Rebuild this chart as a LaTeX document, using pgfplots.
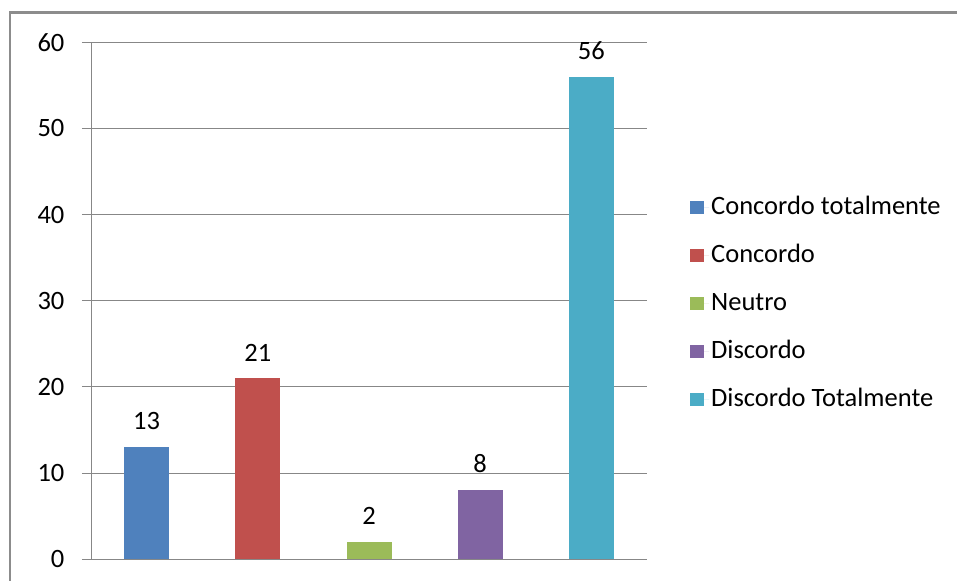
\documentclass[border=0pt]{standalone}
\usepackage{pgfplots}
\pgfplotsset{compat=1.18}
\usepackage{fontspec}
\setmainfont{Carlito}

\definecolor{serA}{HTML}{4F81BD}
\definecolor{serB}{HTML}{C0504D}
\definecolor{serC}{HTML}{9BBB59}
\definecolor{serD}{HTML}{8064A2}
\definecolor{serE}{HTML}{4BACC6}
\definecolor{gridgray}{HTML}{878787}
\definecolor{framegray}{HTML}{8C8C8C}

\newcommand{\chartfont}{\fontsize{26.5bp}{32bp}\selectfont}

\begin{document}
\begin{tikzpicture}[x=1bp,y=1bp]
\useasboundingbox (0,0) rectangle (957,581);
% outer chart frame
\draw[framegray, line width=2.5bp] (10,-20) -- (10,568.7) -- (990,568.7);
\begin{axis}[
  at={(91bp,21.7bp)}, anchor=south west,
  scale only axis, width=556bp, height=517bp,
  xmin=-0.5, xmax=4.5, ymin=0, ymax=60,
  ytick={0,10,...,60}, xtick=\empty,
  axis x line*=bottom, axis y line*=left,
  axis line style={gridgray, line width=1bp},
  ymajorgrids, grid style={gridgray, line width=1bp},
  tick align=outside, major tick length=9bp,
  ytick style={gridgray, line width=1bp},
  yticklabel style={font=\chartfont, text=black, inner sep=0pt, xshift=-17.4bp},
  /pgf/number format/assume math mode=true,
  ybar, bar width=45bp, bar shift=0pt,
  nodes near coords,
  every node near coord/.append style={font=\chartfont, text=black, inner sep=0pt, yshift=17bp, anchor=south},
  legend cell align=left,
  legend image code/.code={%
    \fill[#1, draw=none] (0bp,-6.5bp) rectangle (14bp,6.5bp);
    \path (0bp,0bp) -- (19bp,0bp);},
  legend style={
    at={(1.0773,0.494)}, anchor=west, draw=none, fill=none,
    inner sep=0pt, font=\chartfont, row sep=18bp,
    nodes={text height=20bp, text depth=6bp, inner sep=2bp}
  },
]
\addplot[fill=serA, draw=none] coordinates {(0,13)};
\addplot[fill=serB, draw=none] coordinates {(1,21)};
\addplot[fill=serC, draw=none] coordinates {(2,2)};
\addplot[fill=serD, draw=none] coordinates {(3,8)};
\addplot[fill=serE, draw=none] coordinates {(4,56)};
\legend{Concordo totalmente, Concordo, Neutro, Discordo, Discordo Totalmente}
\end{axis}
\end{tikzpicture}
\end{document}
